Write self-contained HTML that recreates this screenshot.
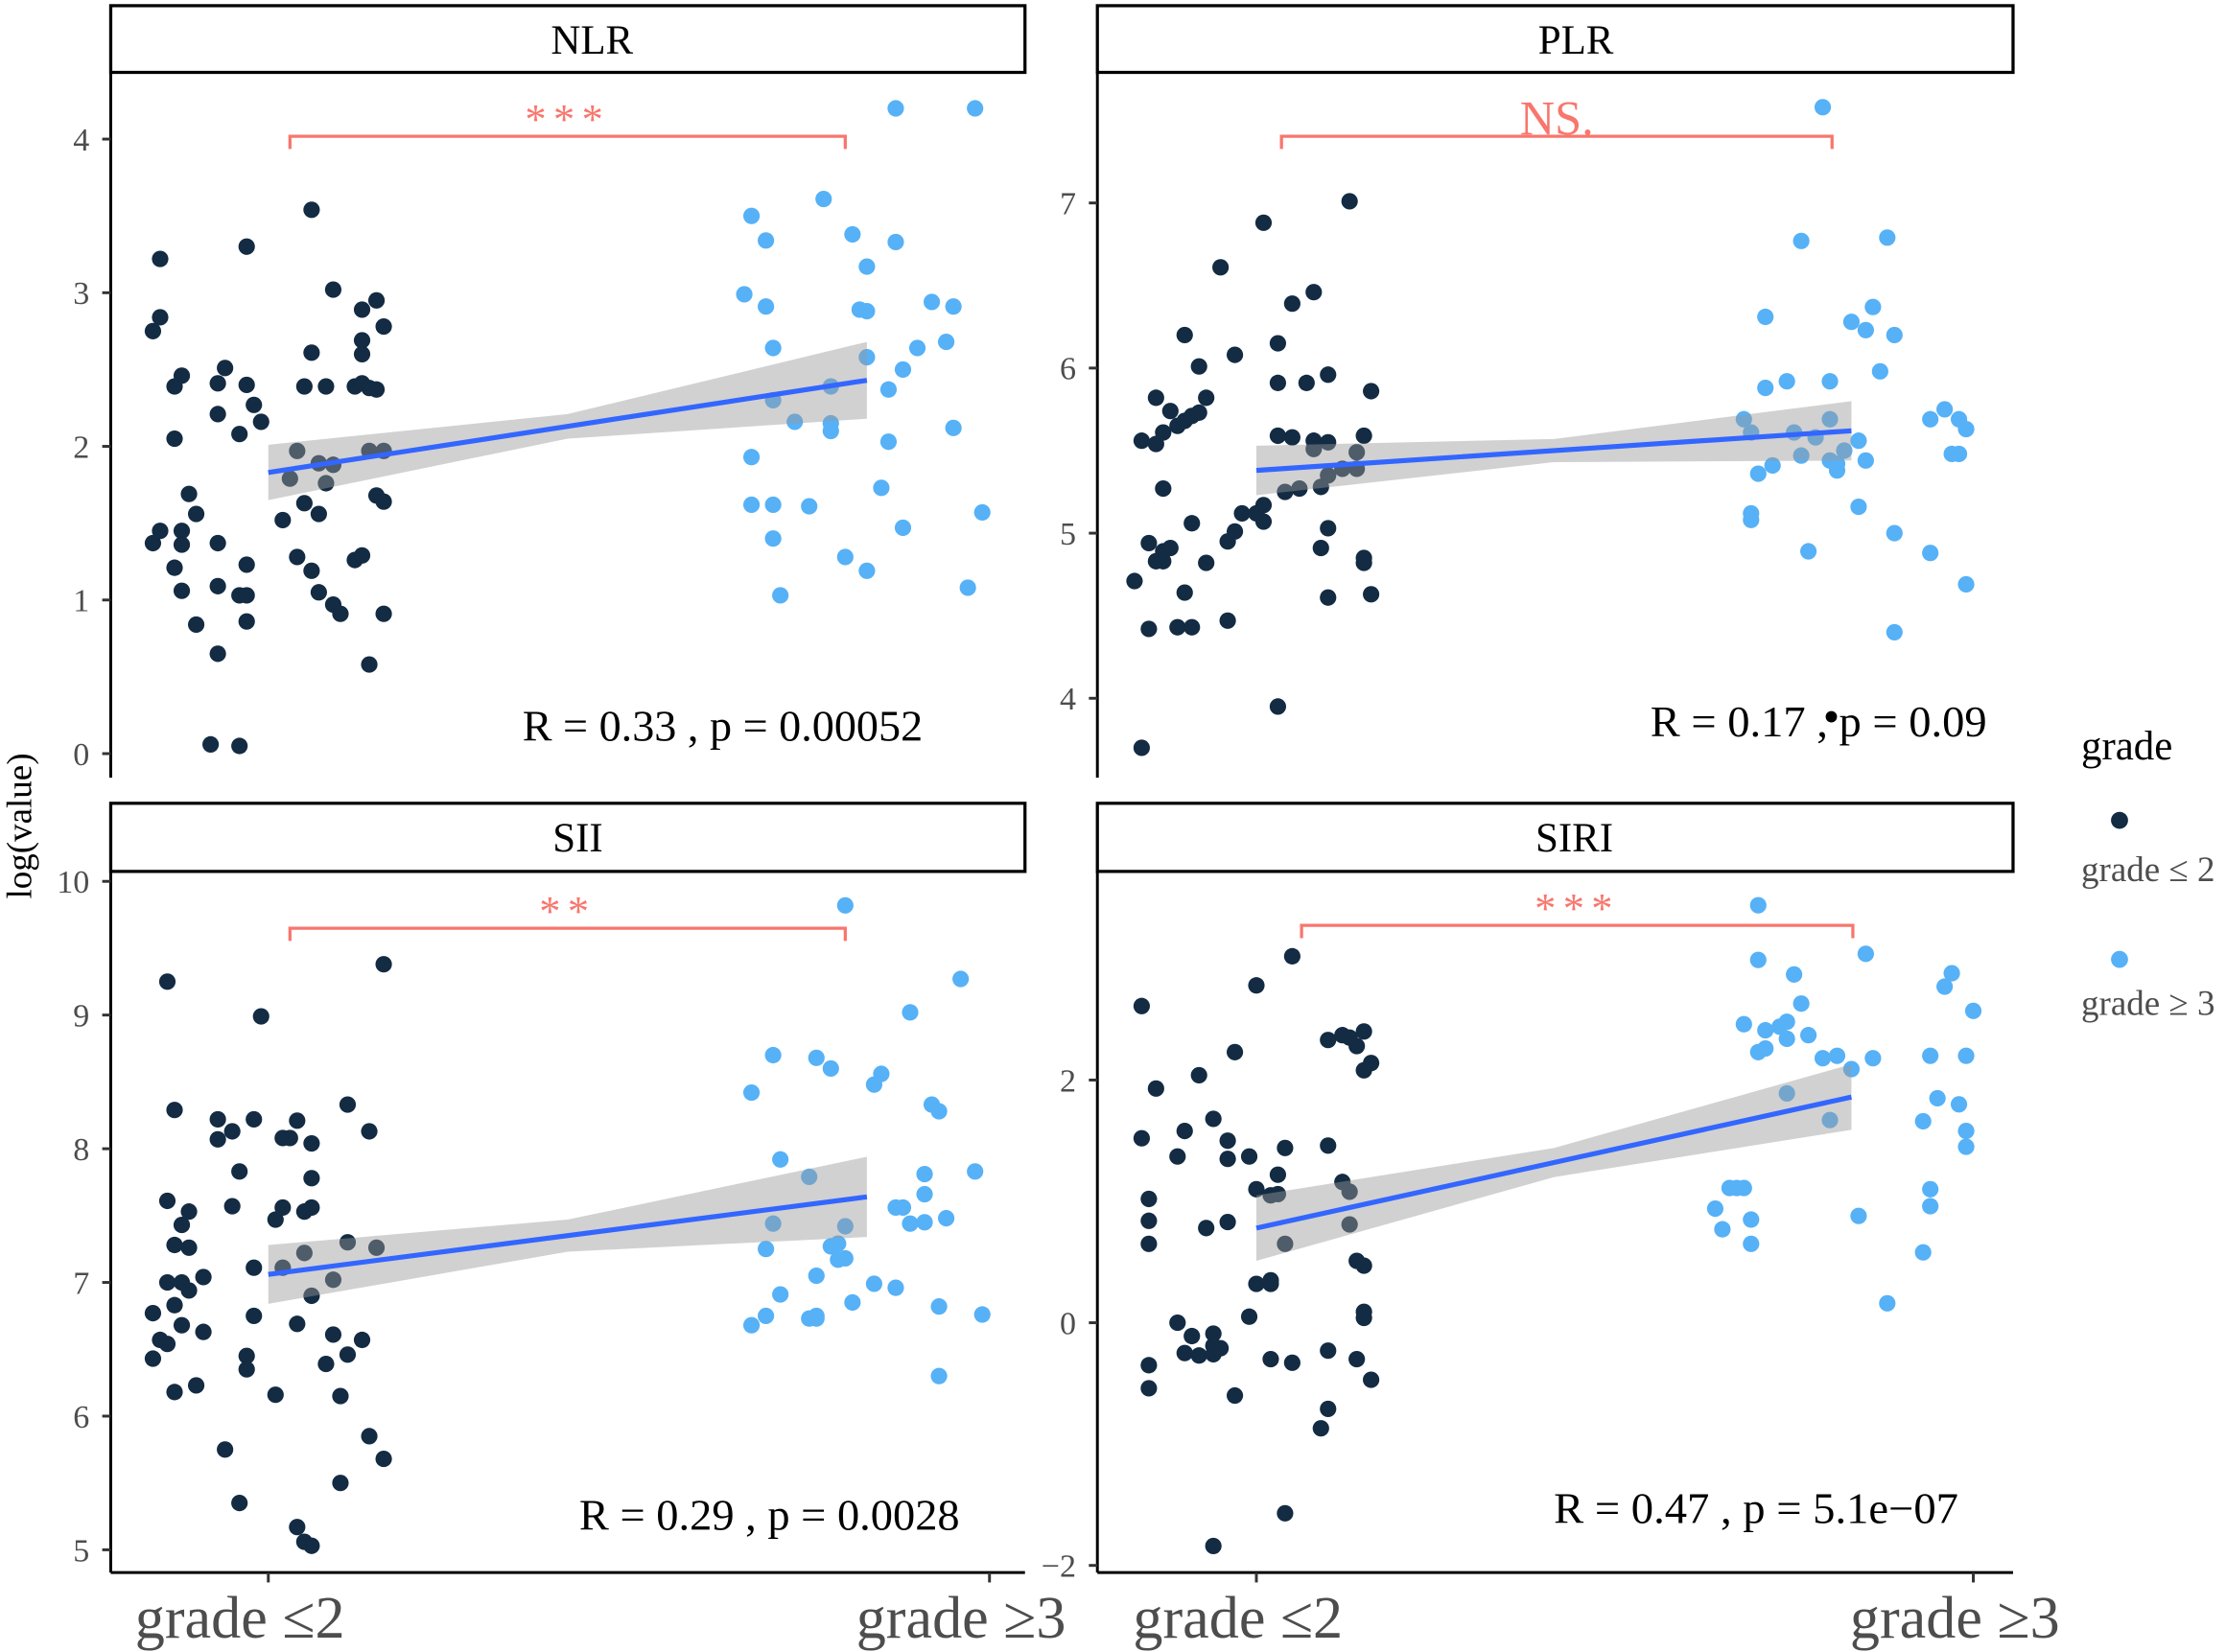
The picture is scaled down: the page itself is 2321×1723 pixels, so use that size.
<!DOCTYPE html>
<html><head><meta charset="utf-8"><style>
html,body{margin:0;padding:0;background:#fff}
svg{display:block}
text{font-family:"Liberation Serif",serif}
</style></head><body>
<svg id="chart" width="2321" height="1723" viewBox="0 0 1568 1164" xmlns="http://www.w3.org/2000/svg">
<rect width="1568" height="1164" fill="#fff"/>
<text x="0" y="0" transform="translate(22,582) rotate(-90)" font-size="25" text-anchor="middle">log(value)</text>
<g>
<text x="1466" y="535" font-size="29">grade</text>
<circle cx="1493" cy="578" r="6" fill="#132b43"/>
<text x="1466" y="621" font-size="25" fill="#4d4d4d">grade ≤ 2</text>
<circle cx="1493" cy="676" r="6" fill="#56b1f7"/>
<text x="1466" y="715" font-size="25" fill="#4d4d4d">grade ≥ 3</text>
</g>
<circle cx="1290" cy="505" r="4" fill="#000"/>
</svg>
<script>
// ---- data ----
const categories = ["grade ≤2", "grade ≥3"];
const panelTitles = ["NLR", "PLR", "SII", "SIRI"];
const yTicksNLR = [0, 1, 2, 3, 4];
const yTicksPLR = [4, 5, 6, 7];
const yTicksSII = [5, 6, 7, 8, 9, 10];
const yTicksSIRI = [-2, 0, 2];
const statLabels = ["R = 0.33 , p = 0.00052", "R = 0.17 , p = 0.09", "R = 0.29 , p = 0.0028", "R = 0.47 , p = 5.1e\u221207"];
const sigLabels = ["***", "NS.", "**", "***"];

const nlrLow = [[-0.16,2.75],[-0.15,2.84],[-0.15,3.22],[-0.12,2.46],[-0.13,2.39],[-0.13,2.05],[-0.11,1.69],[-0.10,1.56],[-0.16,1.37],[-0.15,1.45],[-0.12,1.45],[-0.12,1.36],[-0.13,1.21],[-0.12,1.06],[-0.10,0.84],[-0.07,0.65],[-0.07,1.09],[-0.07,1.37],[-0.07,2.41],[-0.06,2.51],[-0.07,2.21],[-0.04,2.08],[-0.03,3.30],[-0.03,2.40],[-0.02,2.27],[-0.01,2.16],[-0.04,1.03],[-0.03,1.03],[-0.03,1.23],[-0.03,0.86],[-0.08,0.06],[-0.04,0.05],[0.06,3.54],[0.09,3.02],[0.06,2.61],[0.05,2.39],[0.08,2.39],[0.12,2.39],[0.13,2.41],[0.14,2.38],[0.15,2.37],[0.13,2.89],[0.15,2.95],[0.13,2.69],[0.13,2.60],[0.16,2.78],[0.04,1.97],[0.07,1.89],[0.09,1.88],[0.08,1.76],[0.03,1.79],[0.02,1.52],[0.05,1.63],[0.07,1.56],[0.14,1.97],[0.16,1.97],[0.15,1.68],[0.16,1.64],[0.04,1.28],[0.06,1.19],[0.12,1.26],[0.13,1.29],[0.07,1.05],[0.09,0.97],[0.10,0.91],[0.16,0.91],[0.14,0.58]];
const nlrHigh = [[-0.33,3.50],[-0.31,3.34],[-0.34,2.99],[-0.31,2.91],[-0.30,2.64],[-0.23,3.61],[-0.19,3.38],[-0.17,3.17],[-0.13,3.33],[-0.13,4.20],[-0.02,4.20],[-0.18,2.89],[-0.17,2.88],[-0.08,2.94],[-0.05,2.91],[-0.06,2.68],[-0.10,2.64],[-0.17,2.58],[-0.12,2.50],[-0.14,2.37],[-0.22,2.39],[-0.30,2.30],[-0.27,2.16],[-0.22,2.15],[-0.22,2.10],[-0.05,2.12],[-0.33,1.93],[-0.14,2.03],[-0.15,1.73],[-0.33,1.62],[-0.30,1.62],[-0.25,1.61],[-0.01,1.57],[-0.30,1.40],[-0.12,1.47],[-0.20,1.28],[-0.17,1.19],[-0.29,1.03],[-0.03,1.08]];
const plrLow = [[-0.16,3.70],[-0.17,4.71],[-0.15,4.42],[-0.15,4.94],[-0.13,4.89],[-0.12,4.91],[-0.14,4.83],[-0.13,4.83],[-0.16,5.56],[-0.14,5.54],[-0.13,5.61],[-0.13,5.27],[-0.14,5.82],[-0.12,5.74],[-0.11,5.65],[-0.10,5.68],[-0.09,5.71],[-0.08,5.73],[-0.07,5.82],[-0.10,6.20],[-0.08,6.01],[-0.05,6.61],[-0.03,6.08],[-0.11,4.43],[-0.09,4.43],[-0.10,4.64],[-0.07,4.82],[-0.09,5.06],[-0.04,4.47],[-0.04,4.95],[-0.03,5.01],[-0.02,5.12],[0.00,5.12],[0.01,5.07],[0.01,6.88],[0.01,5.17],[0.03,6.15],[0.03,5.91],[0.03,5.59],[0.05,5.58],[0.04,5.25],[0.06,5.27],[0.03,3.95],[0.05,6.39],[0.08,6.46],[0.07,5.91],[0.10,5.96],[0.13,7.01],[0.08,5.56],[0.10,5.55],[0.08,5.51],[0.10,5.35],[0.12,5.39],[0.14,5.39],[0.14,5.49],[0.15,5.59],[0.16,5.86],[0.09,5.28],[0.10,5.03],[0.09,4.91],[0.15,4.85],[0.15,4.82],[0.10,4.61],[0.16,4.63]];
const plrHigh = [[-0.21,7.58],[-0.24,6.77],[-0.12,6.79],[-0.29,6.31],[-0.29,5.88],[-0.26,5.92],[-0.20,5.92],[-0.17,6.28],[-0.14,6.37],[-0.15,6.23],[-0.11,6.20],[-0.13,5.98],[-0.32,5.69],[-0.31,5.61],[-0.30,5.36],[-0.28,5.41],[-0.25,5.61],[-0.24,5.47],[-0.22,5.58],[-0.20,5.44],[-0.19,5.38],[-0.19,5.42],[-0.18,5.50],[-0.16,5.56],[-0.15,5.44],[-0.20,5.69],[-0.31,5.12],[-0.31,5.08],[-0.16,5.16],[-0.23,4.89],[-0.11,5.00],[-0.11,4.40],[-0.06,5.69],[-0.04,5.75],[-0.02,5.69],[-0.01,5.63],[-0.03,5.48],[-0.02,5.48],[-0.06,4.88],[-0.01,4.69]];
const siiLow = [[-0.14,9.25],[0.16,9.38],[-0.01,8.99],[-0.13,8.29],[-0.07,8.22],[-0.05,8.13],[-0.07,8.07],[-0.02,8.22],[0.02,8.08],[0.04,8.21],[0.03,8.08],[0.11,8.33],[0.06,8.04],[0.14,8.13],[-0.04,7.83],[0.06,7.78],[-0.14,7.61],[-0.11,7.53],[-0.12,7.43],[-0.05,7.57],[0.01,7.47],[0.02,7.56],[0.05,7.53],[0.06,7.56],[-0.13,7.28],[-0.11,7.26],[-0.02,7.11],[0.02,7.11],[0.05,7.22],[0.11,7.30],[0.15,7.26],[-0.14,7.00],[-0.12,7.00],[-0.09,7.04],[-0.11,6.94],[0.06,6.90],[0.09,7.02],[-0.16,6.77],[-0.13,6.83],[-0.12,6.68],[-0.09,6.63],[-0.02,6.75],[-0.15,6.57],[-0.14,6.54],[0.04,6.69],[0.09,6.61],[0.13,6.57],[-0.16,6.43],[-0.03,6.45],[-0.03,6.35],[0.11,6.46],[0.08,6.39],[-0.10,6.23],[-0.13,6.18],[0.01,6.16],[0.10,6.15],[-0.06,5.75],[0.14,5.85],[0.16,5.68],[0.10,5.50],[-0.04,5.35],[0.04,5.17],[0.05,5.06],[0.06,5.03]];
const siiHigh = [[-0.20,9.82],[-0.04,9.27],[-0.11,9.02],[-0.30,8.70],[-0.24,8.68],[-0.22,8.60],[-0.33,8.42],[-0.15,8.56],[-0.16,8.48],[-0.08,8.33],[-0.07,8.28],[-0.29,7.92],[-0.25,7.79],[-0.09,7.81],[-0.02,7.83],[-0.13,7.56],[-0.12,7.56],[-0.09,7.66],[-0.11,7.44],[-0.09,7.45],[-0.06,7.48],[-0.30,7.44],[-0.20,7.42],[-0.31,7.25],[-0.22,7.27],[-0.21,7.29],[-0.21,7.17],[-0.20,7.18],[-0.24,7.05],[-0.29,6.91],[-0.16,6.99],[-0.13,6.96],[-0.19,6.85],[-0.07,6.82],[-0.31,6.75],[-0.25,6.73],[-0.24,6.73],[-0.24,6.75],[-0.33,6.68],[-0.01,6.76],[-0.07,6.30]];
const siriLow = [[0.05,3.02],[0.00,2.78],[-0.16,2.61],[0.10,2.33],[0.12,2.37],[0.13,2.35],[0.15,2.40],[0.14,2.28],[0.16,2.14],[0.15,2.08],[-0.03,2.23],[-0.14,1.93],[-0.08,2.04],[-0.06,1.68],[-0.16,1.52],[-0.10,1.58],[-0.11,1.37],[-0.04,1.50],[-0.01,1.37],[0.04,1.44],[0.10,1.46],[-0.04,1.35],[-0.15,1.02],[-0.15,0.84],[-0.15,0.65],[0.03,1.22],[0.00,1.10],[0.02,1.05],[0.03,1.06],[0.12,1.16],[0.13,1.08],[-0.07,0.78],[-0.04,0.83],[0.13,0.81],[0.04,0.65],[0.14,0.51],[0.15,0.47],[0.00,0.32],[0.02,0.32],[0.02,0.35],[0.15,0.09],[0.15,0.04],[-0.01,0.05],[-0.11,0.00],[-0.15,-0.35],[-0.09,-0.11],[-0.10,-0.25],[-0.08,-0.27],[-0.06,-0.19],[-0.06,-0.09],[-0.05,-0.21],[-0.06,-0.26],[-0.15,-0.54],[-0.03,-0.60],[0.02,-0.30],[0.05,-0.33],[0.10,-0.23],[0.14,-0.30],[0.16,-0.47],[0.10,-0.71],[0.09,-0.87],[0.04,-1.57],[-0.06,-1.84]];
const siriHigh = [[-0.30,3.44],[-0.30,2.99],[-0.15,3.04],[-0.25,2.87],[-0.24,2.63],[-0.03,2.88],[-0.04,2.77],[0.00,2.57],[-0.32,2.46],[-0.29,2.41],[-0.27,2.44],[-0.26,2.34],[-0.26,2.48],[-0.23,2.37],[-0.30,2.23],[-0.29,2.26],[-0.21,2.18],[-0.19,2.20],[-0.14,2.18],[-0.17,2.09],[-0.26,1.89],[-0.06,2.20],[-0.01,2.20],[-0.05,1.85],[-0.02,1.80],[-0.07,1.66],[-0.20,1.67],[-0.01,1.58],[-0.01,1.45],[-0.34,1.11],[-0.33,1.11],[-0.32,1.11],[-0.06,1.10],[-0.36,0.94],[-0.31,0.85],[-0.16,0.88],[-0.06,0.96],[-0.35,0.77],[-0.31,0.65],[-0.07,0.58],[-0.12,0.16]];

const smoothX = [1, 1.415, 1.83];
const nlrFit = [1.83, 2.13, 2.43];
const nlrSe = [0.18, 0.08, 0.25];
const plrFit = [5.38, 5.50, 5.62];
const plrSe = [0.15, 0.07, 0.18];
const siiFit = [7.06, 7.35, 7.64];
const siiSe = [0.22, 0.12, 0.30];
const siriFit = [0.78, 1.32, 1.86];
const siriSe = [0.27, 0.12, 0.27];

// ---- layout ----
const NS = "http://www.w3.org/2000/svg";
const svg = document.getElementById("chart");
function el(tag, attrs, parent) {
  const e = document.createElementNS(NS, tag);
  for (const k in attrs) e.setAttribute(k, attrs[k]);
  (parent || svg).appendChild(e);
  return e;
}
const panels = [
  {key:"nlr", title:panelTitles[0], tx:417, x0:78, x1:722, top:51, bottom:548, strip:4, c1:189, cw:508, yA:0, pA:531, yB:4, pB:98, ticks:yTicksNLR, low:nlrLow, high:nlrHigh, fit:nlrFit, se:nlrSe, stat:statLabels[0], sx:509, sy:522, sw:282, sig:sigLabels[0], bx0:1.03, bx1:1.8, by:96, xAxis:false, xo:-20},
  {key:"plr", title:panelTitles[1], tx:1110, x0:773, x1:1418, top:51, bottom:548, strip:4, c1:885, cw:505, yA:4, pA:492, yB:7, pB:143, ticks:yTicksPLR, low:plrLow, high:plrHigh, fit:plrFit, se:plrSe, stat:statLabels[1], sx:1281, sy:519, sw:237, sig:sigLabels[1], bx0:1.035, bx1:1.803, by:96, xAxis:false, xo:-14},
  {key:"sii", title:panelTitles[2], tx:407, x0:78, x1:722, top:614, bottom:1108, strip:566, c1:189, cw:508, yA:5, pA:1092, yB:10, pB:621, ticks:yTicksSII, low:siiLow, high:siiHigh, fit:siiFit, se:siiSe, stat:statLabels[2], sx:542, sy:1078, sw:268, sig:sigLabels[2], bx0:1.03, bx1:1.8, by:654, xAxis:true, xo:-20},
  {key:"siri", title:panelTitles[3], tx:1109, x0:773, x1:1418, top:614, bottom:1108, strip:566, c1:885, cw:505, yA:-2, pA:1103, yB:2, pB:761, ticks:yTicksSIRI, low:siriLow, high:siriHigh, fit:siriFit, se:siriSe, stat:statLabels[3], sx:1237, sy:1073, sw:285, sig:sigLabels[3], bx0:1.063, bx1:1.832, by:652, xAxis:true, xo:-13}
];
panels.forEach(p => {
  const g = el("g", {});
  
  
  const X = v => p.c1 + (v - 1) * p.cw;
  const Y = v => p.pA + (v - p.yA) * (p.pB - p.pA) / (p.yB - p.yA);
  const sr = el("rect", {x:p.x0, y:p.strip, width:p.x1-p.x0, height:p.top-p.strip, fill:"#fff", stroke:"#000", "stroke-width":2.2}, g);
  
  
  const st = el("text", {x:p.tx, y:p.strip+34, "font-size":29, "text-anchor":"middle"}, g);
  st.textContent = p.title;
  
  
  const ya = el("line", {x1:p.x0, y1:p.top, x2:p.x0, y2:p.bottom, stroke:"#000", "stroke-width":2}, g);
  
  
  p.ticks.forEach(t => {
    const tl = el("line", {x1:p.x0-6, y1:Y(t), x2:p.x0, y2:Y(t), stroke:"#333", "stroke-width":2}, g);
    
    
    const tt = el("text", {x:p.x0-15, y:Y(t)+8, "font-size":23, fill:"#4d4d4d", "text-anchor":"end"}, g);
    tt.textContent = t < 0 ? "\u2212" + Math.abs(t) : t;
    
    
  });
  if (p.xAxis) {
    const xa = el("line", {x1:p.x0, y1:p.bottom, x2:p.x1, y2:p.bottom, stroke:"#000", "stroke-width":2}, g);
    
    
    categories.forEach((c, i) => {
      const tl = el("line", {x1:X(i+1), y1:p.bottom, x2:X(i+1), y2:p.bottom+7, stroke:"#333", "stroke-width":2}, g);
      
      
      const tt = el("text", {x:X(i+1)+p.xo, y:p.bottom+46, "font-size":42, fill:"#4d4d4d", "text-anchor":"middle"}, g);
      tt.textContent = c;
      
      
    });
  }
  p.low.forEach(d => {
    const c = el("circle", {cx:X(1+d[0]), cy:Y(d[1]), r:5.8, fill:"#132b43"}, g);
    
    
  });
  p.high.forEach(d => {
    const c = el("circle", {cx:X(2+d[0]), cy:Y(d[1]), r:5.8, fill:"#56b1f7"}, g);
    
    
  });
  let up = "", dn = "";
  smoothX.forEach((x, i) => { up += (i ? "L" : "M") + X(x) + "," + Y(p.fit[i] + p.se[i]); });
  for (let i = smoothX.length - 1; i >= 0; i--) dn += "L" + X(smoothX[i]) + "," + Y(p.fit[i] - p.se[i]);
  const band = el("path", {d: up + dn + "Z", fill:"#999", "fill-opacity":0.45}, g);
  
  
  const ln = el("line", {x1:X(smoothX[0]), y1:Y(p.fit[0]), x2:X(smoothX[2]), y2:Y(p.fit[2]), stroke:"#3366ff", "stroke-width":3.5}, g);
  
  
  const bx0 = X(p.bx0), bx1 = X(p.bx1);
  const br = el("path", {d:`M${bx0},${p.by+9}V${p.by}H${bx1}V${p.by+9}`, fill:"none", stroke:"#f8766d", "stroke-width":2.2}, g);
  
  
  const isNS = p.sig === "NS.";
  const sg = el("text", {x:(bx0+bx1)/2, y:isNS ? p.by-1 : p.by-2, "font-size":isNS ? 34 : 30, fill:"#f8766d", "text-anchor":"middle", "letter-spacing": isNS ? 0 : 5}, g);
  sg.textContent = p.sig;
  
  
  const s = el("text", {x:p.sx, y:p.sy, "font-size":31, "text-anchor":"middle", textLength:p.sw, lengthAdjust:"spacingAndGlyphs"}, g);
  s.textContent = p.stat;
  
  
});
</script>
</body></html>
